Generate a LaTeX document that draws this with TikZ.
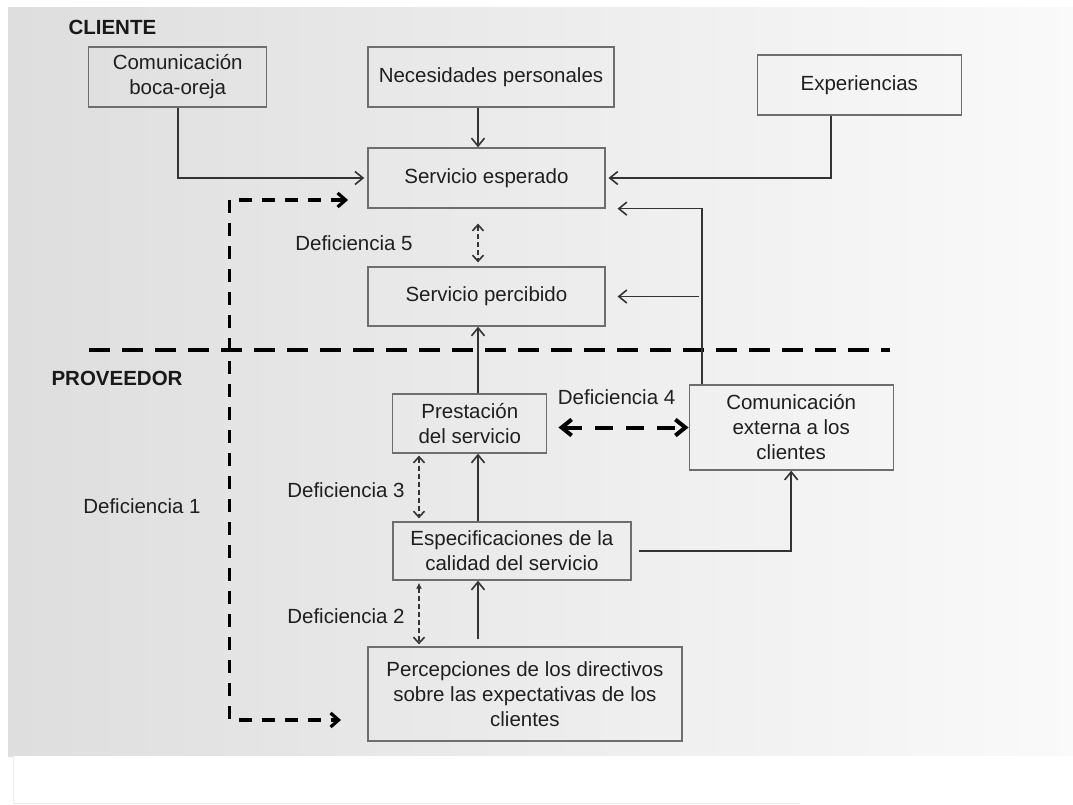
\documentclass[tikz,border=0pt]{standalone}
\usepackage{fontspec}
\setmainfont{Liberation Sans}
\usetikzlibrary{arrows.meta,calc}
\tikzset{
	caja/.style={draw=black!57, line width=1.3pt, align=center, inner sep=0pt, text=black!88, font=\fontsize{20.5}{25}\selectfont},
	flecha/.style={draw=black!80, line width=1.6pt, -{Straight Barb[length=8pt,width=13pt]}},
	brecha/.style={draw=black!80, line width=1.6pt, dash pattern=on 5pt off 3pt, {Straight Barb[length=6pt,width=11pt]}-{Straight Barb[length=6pt,width=11pt]}},
	brechagruesa/.style={black, line width=3.2pt, dash pattern=on 13pt off 10pt, {Straight Barb[length=8pt,width=14pt]}-{Straight Barb[length=8pt,width=14pt]}},
	separador/.style={black, line width=4.5pt, dash pattern=on 21pt off 12pt},
	etiqueta/.style={text=black!88, font=\fontsize{20.5}{24}\selectfont},
	zona/.style={text=black!90, font=\bfseries\fontsize{20.5}{24}\selectfont}
}

\begin{document}
\begin{tikzpicture}[x=1pt, y=-1pt]
	\useasboundingbox (0,0) rectangle (1073,805);
	\shade[left color=black!13, right color=black!2] (8,8) rectangle (1073,756);
	\fill[white] (13,756) rectangle (1073,803);
	\draw[black!8, line width=1pt] (13,756) -- (13,803) -- (800,803);

	\node[zona, anchor=west] (cliente) at (65,27) {CLIENTE};
	\node[zona, anchor=west] (proveedor) at (48,378) {PROVEEDOR};

	\node[caja, minimum width=178pt, minimum height=60pt] (boca) at (177.7,77) {Comunicación\\boca-oreja};
	\node[caja, minimum width=246pt, minimum height=60pt] (necesidades) at (491,77) {Necesidades personales};
	\node[caja, minimum width=204pt, minimum height=60pt] (experiencias) at (859.3,85) {Experiencias};
	\node[caja, minimum width=237pt, minimum height=60pt] (esperado) at (486.4,178) {Servicio esperado};
	\node[caja, minimum width=237pt, minimum height=59pt] (percibido) at (486.4,296.5) {Servicio percibido};
	\node[caja, minimum width=154pt, minimum height=59pt] (prestacion) at (469.8,423.5) {Prestación\\del servicio};
	\node[caja, minimum width=204pt, minimum height=85pt] (externa) at (791.2,427.5) {Comunicación\\externa a los\\clientes};
	\node[caja, minimum width=238pt, minimum height=58pt] (especificaciones) at (511.9,551) {Especificaciones de la\\calidad del servicio};
	\node[caja, minimum width=314pt, minimum height=94pt] (percepciones) at (524.9,694) {Percepciones de los directivos\\sobre las expectativas de los\\clientes};

	\node[etiqueta] (def5) at (354,243) {Deficiencia 5};
	\node[etiqueta] (def4) at (616.6,397) {Deficiencia 4};
	\node[etiqueta] (def3) at (346,490) {Deficiencia 3};
	\node[etiqueta] (def2) at (346,616) {Deficiencia 2};
	\node[etiqueta] (def1) at (142,506) {Deficiencia 1};

	\coordinate (eje) at (478,0);
	\coordinate (bajada) at (702,0);
	\coordinate (experiencia) at (831,0);
	\coordinate (hueco) at (419,0);
	\coordinate (sepizq) at (89,350);
	\coordinate (sepder) at (890,350);
	\coordinate (d1arriba) at (348,200);
	\coordinate (d1esquina) at (229.4,720);
	\coordinate (d1abajo) at (341,720);

	\draw[separador] (sepizq) -- (sepder);

	\draw[flecha, shorten >=3pt] (boca.south) |- (esperado.west);
	\draw[flecha] (necesidades.south -| eje) -- (esperado.north -| eje);
	\draw[flecha, shorten >=3pt] (experiencias.south -| experiencia) |- (esperado.east);
	\draw[flecha, shorten >=12pt] (externa.north -| bajada) |- (esperado.south east);
	\draw[flecha, shorten <=3pt, shorten >=12pt] (percibido.east -| bajada) -- (percibido.east);
	\draw[flecha] (prestacion.north -| eje) -- (percibido.south -| eje);
	\draw[flecha] (especificaciones.north -| eje) -- (prestacion.south -| eje);
	\draw[flecha, shorten <=7pt] (percepciones.north -| eje) -- (especificaciones.south -| eje);
	\draw[flecha, shorten <=7pt] (especificaciones.east) -| (externa.south);

	\draw[brecha, shorten <=15pt, shorten >=4pt] (esperado.south -| eje) -- (percibido.north -| eje);
	\draw[brecha, shorten <=2pt, shorten >=3pt] (prestacion.south -| hueco) -- (especificaciones.north -| hueco);
	\draw[brecha, {Latex[length=6pt,width=6pt]}-{Straight Barb[length=6pt,width=11pt]}, shorten <=2pt, shorten >=2pt] (especificaciones.south -| hueco) -- (percepciones.north -| hueco);
	\draw[brechagruesa, line width=4pt, dash pattern=on 18pt off 13pt, {Straight Barb[length=10pt,width=16pt]}-{Straight Barb[length=10pt,width=16pt]}, shorten <=11pt] (prestacion.east |- externa.west) -- (externa.west);
	\draw[brechagruesa] (d1arriba) -| (d1esquina) -- (d1abajo);
\end{tikzpicture}
\end{document}
